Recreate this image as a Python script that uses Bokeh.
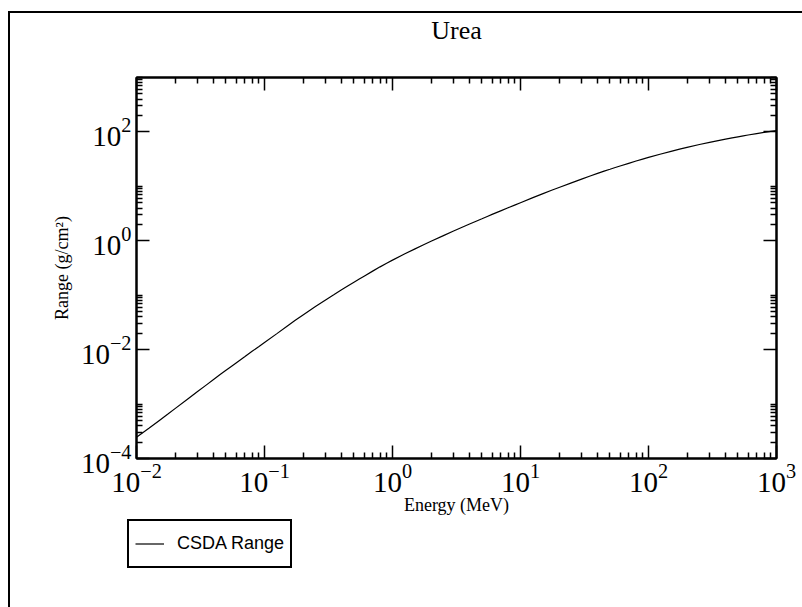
from bokeh.plotting import figure
from bokeh.layouts import column, row
from bokeh.models import LogAxis, FixedTicker, Legend, LegendItem, Spacer
from bokeh.embed import file_html
from bokeh.resources import INLINE

# Data: electron CSDA range for urea
energy_mev = [0.01, 0.0125, 0.015, 0.0175, 0.02, 0.025, 0.03, 0.035, 0.04, 0.045,
              0.05, 0.055, 0.06, 0.07, 0.08, 0.09, 0.1, 0.125, 0.15, 0.175,
              0.2, 0.25, 0.3, 0.35, 0.4, 0.45, 0.5, 0.55, 0.6, 0.7,
              0.8, 0.9, 1.0, 1.25, 1.5, 1.75, 2.0, 2.5, 3.0, 3.5,
              4.0, 4.5, 5.0, 5.5, 6.0, 7.0, 8.0, 9.0, 10.0, 12.5,
              15.0, 17.5, 20.0, 25.0, 30.0, 35.0, 40.0, 45.0, 50.0, 55.0,
              60.0, 70.0, 80.0, 90.0, 100.0, 125.0, 150.0, 175.0, 200.0, 250.0,
              300.0, 350.0, 400.0, 450.0, 500.0, 550.0, 600.0, 700.0, 800.0, 900.0,
              1000.0]
csda_range = [2.45e-4, 3.58e-4, 4.95e-4, 6.5e-4, 8.25e-4, 1.23e-3, 1.70e-3, 2.23e-3, 2.83e-3, 3.49e-3,
              4.18e-3, 4.92e-3, 5.70e-3, 7.40e-3, 9.30e-3, 1.13e-2, 1.35e-2, 1.97e-2, 2.70e-2, 3.50e-2,
              4.35e-2, 6.20e-2, 8.20e-2, 0.103, 0.126, 0.149, 0.173, 0.198, 0.224, 0.277,
              0.332, 0.386, 0.441, 0.576, 0.711, 0.846, 0.980, 1.245, 1.51, 1.77,
              2.03, 2.29, 2.54, 2.80, 3.05, 3.55, 4.04, 4.53, 5.01, 6.20,
              7.35, 8.46, 9.55, 11.6, 13.6, 15.5, 17.3, 19.0, 20.6, 22.2,
              23.7, 26.5, 29.2, 31.7, 34.0, 39.3, 44.0, 48.2, 52.0, 58.7,
              64.4, 69.4, 73.8, 77.8, 81.4, 84.7, 87.8, 93.3, 98.1, 102.4,
              106.3]

x_major = [1e-2, 1e-1, 1e0, 1e1, 1e2, 1e3]
x_minor = [m * 10.0 ** k for k in range(-2, 3) for m in range(2, 10)]
y_major = [1e-4, 1e-2, 1e0, 1e2]
y_minor = [m * 10.0 ** k for k in (-4, -2, 0, 2) for m in range(2, 11)]

title_text = "Urea"
x_label = "Energy (MeV)"
y_label = "Range (g/cm\u00b2)"
series_name = "CSDA Range"

SERIF = "Liberation Serif"
SANS = "Liberation Sans"

T_HEIGHT = 44
P_TOP = 20
P_BOTTOM = 58
P_HEIGHT = P_TOP + 382 + P_BOTTOM
Q_HEIGHT = 594 - T_HEIGHT - P_HEIGHT
LEG_SHIFT = 115

# Title strip
t = figure(width=792, height=T_HEIGHT, x_range=(0, 1), y_range=(0, 1),
           output_backend="svg", toolbar_location=None,
           x_axis_location=None, y_axis_location=None, min_border=0,
           min_border_left=126, min_border_right=26)
t.outline_line_color = None
t.background_fill_color = "white"
t.border_fill_color = "white"
t.xgrid.visible = False
t.ygrid.visible = False
t.title.text = title_text
t.title.align = "center"
t.title.text_font = SERIF
t.title.text_font_style = "normal"
t.title.text_font_size = "26px"
t.title.text_color = "black"
t.title.standoff = 0

# Main plot
p = figure(width=792, height=P_HEIGHT, x_axis_type="log", y_axis_type="log",
           x_range=(1e-2, 1e3), y_range=(1e-4, 1e3),
           output_backend="svg", toolbar_location=None,
           min_border_left=126, min_border_right=26,
           min_border_top=P_TOP, min_border_bottom=P_BOTTOM)
p.title.standoff = 0
p.background_fill_color = "white"
p.border_fill_color = "white"
p.outline_line_color = "black"
p.outline_line_width = 2
p.xgrid.visible = False
p.ygrid.visible = False

xt = FixedTicker(ticks=x_major, minor_ticks=x_minor)
yt = FixedTicker(ticks=y_major, minor_ticks=y_minor)


def style_axis(ax, ticker, show_labels):
    ax.ticker = ticker
    ax.axis_line_color = "black"
    ax.axis_line_width = 2
    ax.major_tick_in = 13
    ax.major_tick_out = 0
    ax.minor_tick_in = 6
    ax.minor_tick_out = 0
    ax.major_tick_line_width = 1.5
    ax.minor_tick_line_width = 1.5
    ax.major_tick_line_color = "black"
    ax.minor_tick_line_color = "black"
    ax.major_label_text_font = SERIF
    if show_labels:
        ax.major_label_text_color = "black"
        ax.major_label_text_font_size = "29px"
        ax.major_label_standoff = 5
    else:
        ax.major_label_text_color = None
        ax.major_label_text_font_size = "2px"
        ax.major_label_standoff = 0


xa = p.xaxis[0]
ya = p.yaxis[0]
style_axis(xa, xt, True)
style_axis(ya, yt, True)
xa.axis_label = x_label
ya.axis_label = y_label
for ax in (xa, ya):
    ax.axis_label_text_font = SERIF
    ax.axis_label_text_font_style = "normal"
    ax.axis_label_text_font_size = "18px"
    ax.axis_label_text_color = "black"
xa.axis_label_standoff = 0
ya.axis_label_standoff = 6

top_ax = LogAxis()
right_ax = LogAxis()
style_axis(top_ax, xt, False)
style_axis(right_ax, yt, False)
p.add_layout(top_ax, "above")
p.add_layout(right_ax, "right")

r = p.line(energy_mev, csda_range, line_color="black", line_width=1.2)

# Legend strip below the axis label (legend glyph from the same series,
# whose data lie outside this strip's ranges)
q = figure(width=792 - LEG_SHIFT, height=Q_HEIGHT, x_range=(0, 1), y_range=(-2, -1),
           output_backend="svg", toolbar_location=None,
           x_axis_location=None, y_axis_location=None, min_border=0)
q.outline_line_color = None
q.background_fill_color = "white"
q.border_fill_color = "white"
q.xgrid.visible = False
q.ygrid.visible = False
legend_proxy = q.line(energy_mev, csda_range, line_color="black", line_width=1.2)

legend = Legend(items=[LegendItem(label=series_name, renderers=[legend_proxy])],
                location="top_left")
legend.label_text_font = SANS
legend.label_text_font_size = "18px"
legend.label_text_color = "black"
legend.border_line_color = "black"
legend.border_line_alpha = 1
legend.border_line_width = 2
legend.background_fill_color = "white"
legend.background_fill_alpha = 1
legend.glyph_width = 29
legend.glyph_height = 33
legend.padding = 6
legend.margin = 2
legend.spacing = 0
legend.label_standoff = 13
q.add_layout(legend, "center")

legend_row = row(Spacer(width=LEG_SHIFT, height=Q_HEIGHT), q, spacing=0)

layout = column(t, p, legend_row, spacing=0, margin=(11, 0, 0, 8),
                styles={"border-top": "2px solid black", "border-left": "2px solid black"})

open("out.html", "w").write(file_html(layout, INLINE))
